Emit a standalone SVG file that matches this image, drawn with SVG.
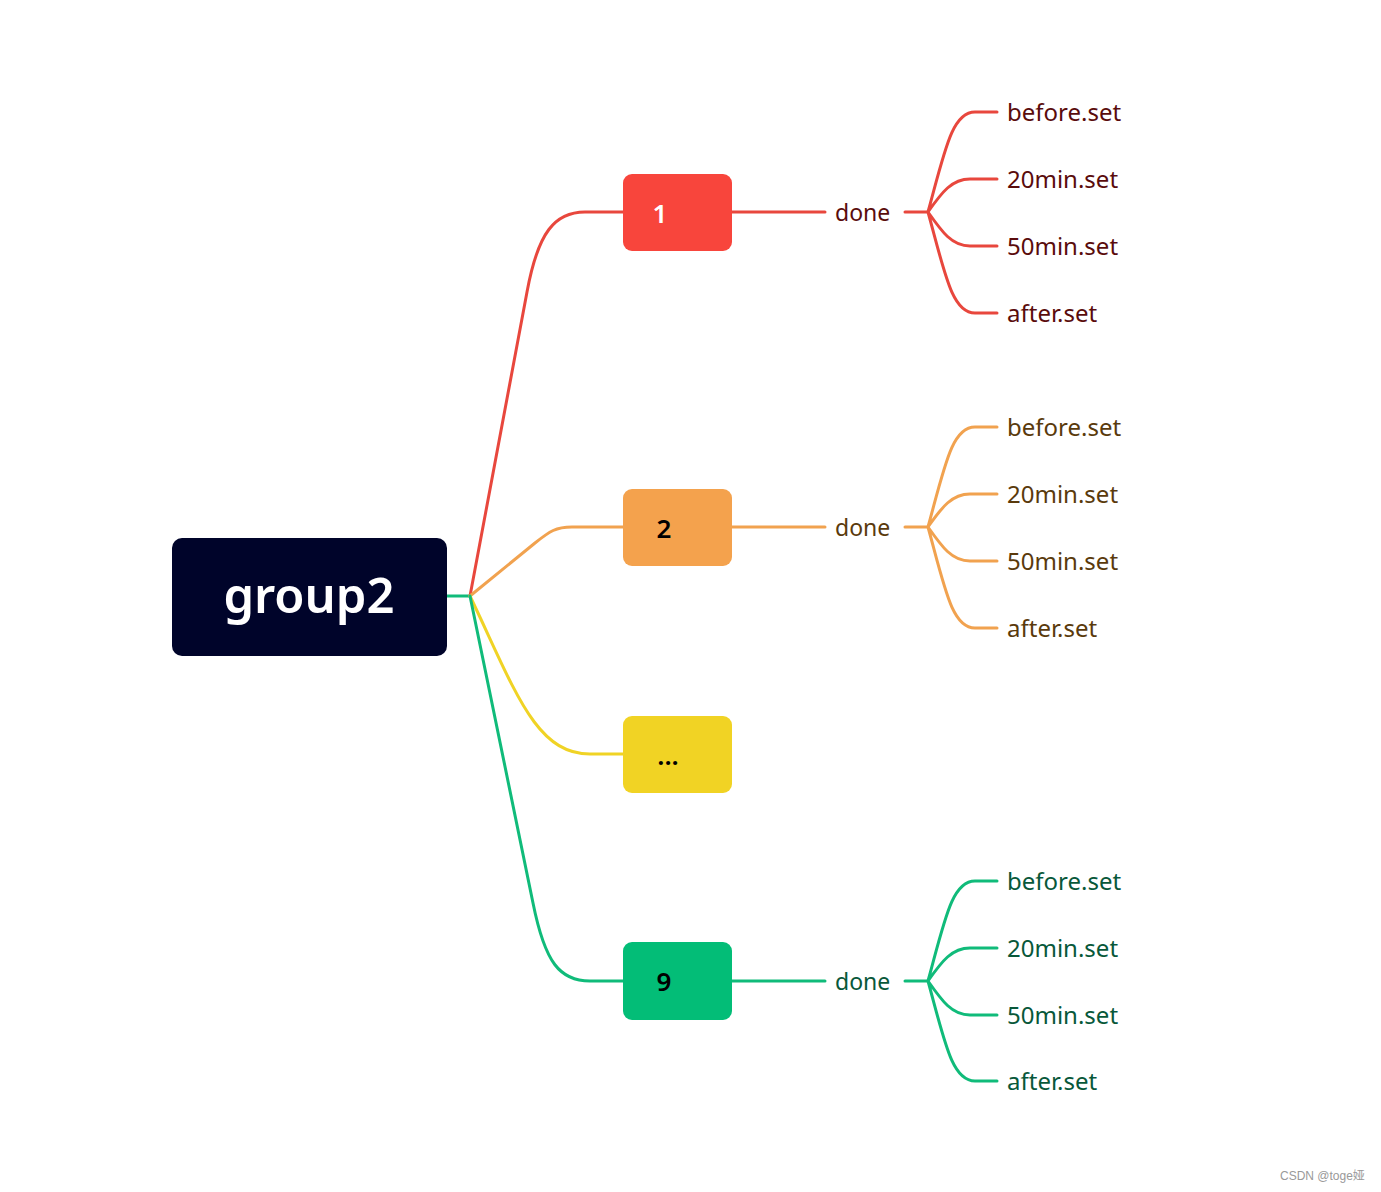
<svg xmlns="http://www.w3.org/2000/svg" width="1381" height="1192" viewBox="0 0 1381 1192">
<style>
.t{font-family:"Noto Sans","Open Sans",sans-serif}
.leaf{font-size:24px}
.c{fill:none;stroke-width:3;stroke-linecap:round;stroke-linejoin:round}
.red{stroke:#e8473d}.org{stroke:#f1a24f}.yel{stroke:#f0d325}.grn{stroke:#10bb7a}
</style>
<rect width="1381" height="1192" fill="#ffffff"/>
<g id="connectors">
  <path class="c grn" d="M447 596 L470 596"/>
  <path class="c red" d="M470 596 L527 292 C538 232 555 212 585 212 L623 212"/>
  <path class="c org" d="M470 596 L535 543 C550 531 556 527 572 527 L623 527"/>
  <path class="c yel" d="M470 596 C515 690 535 754 590 754 L623 754"/>
  <path class="c grn" d="M470 596 L533 903 C545 963 560 981 590 981 L623 981"/>
  <g id="c-red-sub">
    <path class="c red" d="M732 212 L825 212 M905 212 L928 212"/>
    <path class="c red" d="M928 212 C945 150 952 112 975 112 L997 112 M928 212 C942 192 952 179 970 179 L997 179 M928 212 C942 232 952 246 970 246 L997 246 M928 212 C945 274 952 313 975 313 L997 313"/>
  </g>
  <g id="c-org-sub">
    <path class="c org" d="M732 527 L825 527 M905 527 L928 527"/>
    <path class="c org" d="M928 527 C945 465 952 427 975 427 L997 427 M928 527 C942 507 952 494 970 494 L997 494 M928 527 C942 547 952 561 970 561 L997 561 M928 527 C945 589 952 628 975 628 L997 628"/>
  </g>
  <g id="c-grn-sub">
    <path class="c grn" d="M732 981 L825 981 M905 981 L928 981"/>
    <path class="c grn" d="M928 981 C945 919 952 881 975 881 L997 881 M928 981 C942 961 952 948 970 948 L997 948 M928 981 C942 1001 952 1015 970 1015 L997 1015 M928 981 C945 1043 952 1081 975 1081 L997 1081"/>
  </g>
</g>
<g id="root">
  <rect x="172" y="538" width="275" height="118" rx="10" fill="#00042a"/>
  <text class="t" x="309" y="613" font-size="49" font-weight="600" fill="#ffffff" text-anchor="middle">group2</text>
</g>
<g id="n1">
  <rect x="623" y="174" width="109" height="77" rx="9" fill="#f8453c"/>
  <text class="t" x="660" y="223" font-size="26" font-weight="600" fill="#ffffff" text-anchor="middle">1</text>
</g>
<g id="n2">
  <rect x="623" y="489" width="109" height="77" rx="9" fill="#f4a24d"/>
  <text class="t" x="664" y="538" font-size="26" font-weight="600" fill="#000000" text-anchor="middle">2</text>
</g>
<g id="n3">
  <rect x="623" y="716" width="109" height="77" rx="9" fill="#f1d324"/>
  <text class="t" x="668" y="765" font-size="26" font-weight="600" fill="#000000" text-anchor="middle">...</text>
</g>
<g id="n9">
  <rect x="623" y="942" width="109" height="78" rx="9" fill="#03bd77"/>
  <text class="t" x="664" y="991" font-size="26" font-weight="600" fill="#000000" text-anchor="middle">9</text>
</g>
<g id="red-leaves" class="t leaf" fill="#5a0c0c">
  <text x="835" y="221" font-size="23">done</text>
  <text x="1007" y="121">before.set</text>
  <text x="1007" y="188">20min.set</text>
  <text x="1007" y="255">50min.set</text>
  <text x="1007" y="322">after.set</text>
</g>
<g id="org-leaves" class="t leaf" fill="#5a3a0c">
  <text x="835" y="536" font-size="23">done</text>
  <text x="1007" y="436">before.set</text>
  <text x="1007" y="503">20min.set</text>
  <text x="1007" y="570">50min.set</text>
  <text x="1007" y="637">after.set</text>
</g>
<g id="grn-leaves" class="t leaf" fill="#08583a">
  <text x="835" y="990" font-size="23">done</text>
  <text x="1007" y="890">before.set</text>
  <text x="1007" y="957">20min.set</text>
  <text x="1007" y="1024">50min.set</text>
  <text x="1007" y="1090">after.set</text>
</g>
<text x="1280" y="1180" font-family="'Liberation Sans','Noto Sans CJK SC',sans-serif" font-size="12" fill="#999999">CSDN @toge娅</text>
</svg>
